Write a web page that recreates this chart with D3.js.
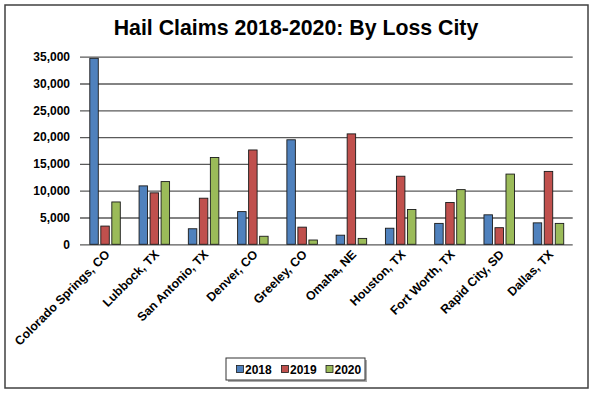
<!DOCTYPE html>
<html><head><meta charset="utf-8">
<script src="https://cdn.jsdelivr.net/npm/d3@7"></script>
<style>body{margin:0;background:#fff}svg{display:block}text{font-family:"Liberation Sans",Arial,sans-serif;font-weight:bold}</style>
</head><body>
<svg id="c" width="594" height="393"></svg>
<script>
const categories = ["Colorado Springs, CO","Lubbock, TX","San Antonio, TX","Denver, CO","Greeley, CO","Omaha, NE","Houston, TX","Fort Worth, TX","Rapid City, SD","Dallas, TX"];
const series = ["2018","2019","2020"];
const values2018 = [34700,10900,2900,6100,19500,1700,3000,3900,5500,4000];
const values2019 = [3400,9600,8600,17600,3200,20600,12700,7800,3100,13600];
const values2020 = [7900,11700,16200,1500,800,1100,6500,10200,13100,3900];
const yTicks = [0,5000,10000,15000,20000,25000,30000,35000];
const colors = ["#4F81BD","#C0504D","#9BBB59"];

const data = [values2018, values2019, values2020];
const svg = d3.select("#c");
svg.append("rect").attr("x",5).attr("y",5).attr("width",583).attr("height",383)
  .attr("fill","#fff").attr("stroke","#404040").attr("stroke-width",1.5);

svg.append("text").attr("x",296).attr("y",34.5).attr("text-anchor","middle")
  .attr("font-size",21.3).attr("fill","#000").text("Hail Claims 2018-2020: By Loss City");

const y = d3.scaleLinear().domain([0,35000]).range([244.3,56.7]);
const x0 = d3.scaleBand().domain(categories).range([80,572.7]);
const x1 = d3.scaleBand().domain(series).range([9.8,40.3]).paddingInner(0.23);

const yAxis = d3.axisLeft(y).tickValues(yTicks).tickFormat(d3.format(",")).tickSize(-(572.7-80)).tickPadding(10);
const gy = svg.append("g").attr("transform","translate(80,0)").call(yAxis);
gy.select(".domain").remove();
gy.selectAll(".tick line").attr("stroke","#5a5a5a").attr("stroke-width",1.3);
gy.selectAll(".tick text").attr("font-size",12).attr("fill","#000")
  .attr("font-family","Liberation Sans, Arial, sans-serif").attr("font-weight","bold");

const groups = svg.append("g").selectAll("g").data(categories).join("g")
  .attr("transform",d=>`translate(${x0(d)},0)`);
groups.selectAll("rect").data((d,i)=>series.map((s,j)=>({s, v:data[j][i], c:colors[j]}))).join("rect")
  .attr("x",d=>x1(d.s)).attr("width",x1.bandwidth())
  .attr("y",d=>y(d.v)).attr("height",d=>y(0)-y(d.v))
  .attr("fill",d=>d.c).attr("stroke","#1a1a1a").attr("stroke-width",0.9);

const xAxis = d3.axisBottom(x0).tickSize(0).tickPadding(0);
const gx = svg.append("g").attr("transform","translate(0,244.3)").call(xAxis);
gx.select(".domain").remove();
gx.selectAll(".tick text")
  .attr("font-size",12.3).attr("fill","#000")
  .attr("font-family","Liberation Sans, Arial, sans-serif").attr("font-weight","bold")
  .attr("text-anchor","end").attr("dy",null)
  .attr("transform","translate(6,11) rotate(-45)");

// legend
const lg = svg.append("g");
lg.append("rect").attr("x",228).attr("y",360).attr("width",139).attr("height",22).attr("fill","#aaa");
lg.append("rect").attr("x",226).attr("y",358).attr("width",139).attr("height",22)
  .attr("fill","#fff").attr("stroke","#333").attr("stroke-width",1);
const lx = [236.5,281.5,326];
series.forEach((s,j)=>{
  lg.append("rect").attr("x",lx[j]).attr("y",365.5).attr("width",7).attr("height",7)
    .attr("fill",colors[j]).attr("stroke","#1a1a1a").attr("stroke-width",0.8);
  lg.append("text").attr("x",lx[j]+8.5).attr("y",373.5).attr("font-size",12).attr("fill","#000").text(s);
});
</script>
</body></html>
